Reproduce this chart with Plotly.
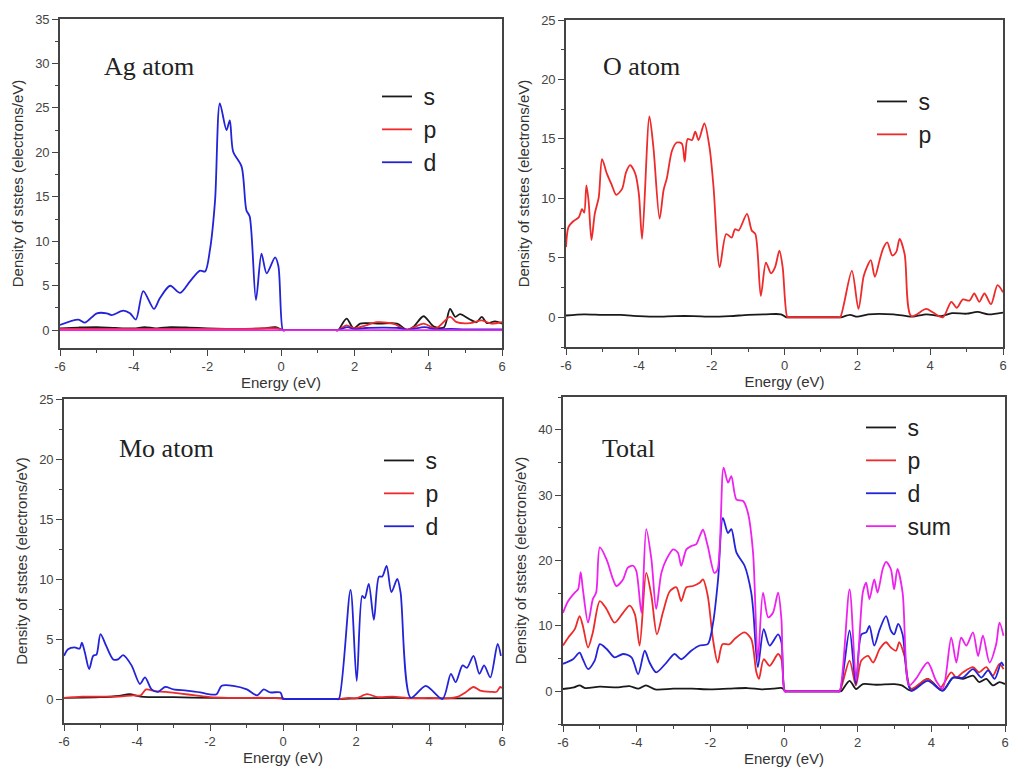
import plotly.graph_objects as go

W, H = 1009, 769

# ---------------- data ----------------
energy_ticks = [-6, -4, -2, 0, 2, 4, 6]
energy_ticktext = ["-6", "-4", "-2", "0", "2", "4", "6"]

# Ag atom
ag_s_x = [-6, -5.5, -5, -4.5, -4, -3.7, -3.4, -3, -2.5, -2, -1.5, -1, -0.5, -0.15, 0.05, 0.12, 1.48, 1.55, 1.78, 1.97, 2.15, 2.33, 2.69, 3.15, 3.42, 3.6, 3.87, 4.15, 4.42, 4.59, 4.73, 4.86, 5.13, 5.31, 5.45, 5.59, 5.81, 6.0]
ag_s_y = [0.2, 0.3, 0.35, 0.25, 0.2, 0.35, 0.2, 0.35, 0.3, 0.2, 0.15, 0.15, 0.2, 0.35, 0, 0, 0, 0, 1.3, 0.2, 0.75, 0.8, 0.75, 0.75, 0.05, 0.4, 1.57, 0.4, 0.3, 2.4, 1.5, 1.8, 1.2, 0.9, 1.5, 0.8, 1.0, 0.75]
ag_p_x = [-6, -5, -4, -3, -2, -1, -0.1, 0.05, 0.12, 1.48, 1.55, 1.78, 2.0, 2.3, 2.6, 3.06, 3.42, 3.87, 4.2, 4.59, 4.77, 5.13, 5.45, 5.7, 6.0]
ag_p_y = [0.15, 0.15, 0.15, 0.15, 0.15, 0.15, 0.2, 0, 0, 0, 0, 0.55, 0.2, 0.55, 0.9, 0.7, 0.05, 0.75, 0.2, 1.5, 0.9, 0.8, 1.1, 0.75, 0.9]
ag_d_x = [-6, -5.5, -5.32, -5.0, -4.73, -4.6, -4.28, -4.1, -3.94, -3.74, -3.45, -3.29, -3.01, -2.74, -2.47, -2.2, -2.06, -1.93, -1.79, -1.66, -1.48, -1.39, -1.30, -1.07, -0.94, -0.85, -0.68, -0.53, -0.39, -0.16, -0.07, 0.05, 0.1, 1.5, 1.55, 1.8, 2.0, 2.3, 2.8, 3.2, 3.45, 3.9, 4.2, 4.6, 5.0, 6.0]
ag_d_y = [0.6, 1.2, 0.86, 1.9, 1.9, 1.7, 2.2, 1.9, 1.2, 4.4, 2.4, 3.6, 5.0, 4.2, 5.5, 6.7, 6.6, 9.0, 14.6, 25.5, 22.5, 23.6, 20.1, 18.4, 13.5, 12.8, 3.4, 8.6, 6.4, 8.2, 7.2, 0, 0, 0, 0, 0.35, 0.1, 0.25, 0.3, 0.25, 0.05, 0.35, 0.1, 0.15, 0.1, 0.1]
ag_base_x = [-6, 6]
ag_base_y = [0, 0]

# O atom
o_s_x = [-6, -5.5, -5, -4.5, -4, -3.5, -3, -2.5, -2, -1.5, -1, -0.5, -0.1, 0.05, 0.12, 1.48, 1.55, 1.8, 2.0, 2.3, 3.0, 3.5, 3.9, 4.3, 4.6, 5.0, 5.3, 5.6, 6.0]
o_s_y = [0.15, 0.25, 0.2, 0.2, 0.1, 0.05, 0.1, 0.1, 0.05, 0.1, 0.2, 0.25, 0.25, 0, 0, 0, 0, 0.2, 0.05, 0.25, 0.25, 0.05, 0.25, 0.1, 0.35, 0.3, 0.45, 0.25, 0.4]
o_p_x = [-6, -5.93, -5.79, -5.65, -5.56, -5.5, -5.44, -5.38, -5.3, -5.21, -5.1, -5.01, -4.88, -4.74, -4.62, -4.46, -4.35, -4.24, -4.1, -4.0, -3.91, -3.71, -3.6, -3.43, -3.32, -3.23, -3.09, -2.96, -2.82, -2.74, -2.66, -2.54, -2.45, -2.36, -2.2, -2.06, -1.95, -1.78, -1.6, -1.45, -1.36, -1.26, -1.03, -0.9, -0.8, -0.65, -0.51, -0.37, -0.26, -0.14, -0.05, 0.08, 0.14, 1.47, 1.53, 1.85, 2.03, 2.17, 2.26, 2.37, 2.48, 2.62, 2.71, 2.82, 2.96, 3.07, 3.16, 3.3, 3.48, 3.89, 4.08, 4.35, 4.58, 4.73, 4.9, 5.08, 5.21, 5.35, 5.49, 5.67, 5.85, 6.0]
o_p_y = [5.9, 7.6, 8.1, 8.4, 9.1, 8.8, 11.1, 9.8, 6.5, 8.7, 10.1, 13.3, 12.1, 11.1, 10.3, 10.8, 12.2, 12.8, 12.1, 10.4, 6.6, 16.9, 14.3, 8.3, 10.7, 11.7, 14.0, 14.7, 14.6, 13.1, 15.0, 14.9, 15.6, 14.9, 16.3, 14.3, 11.0, 4.2, 7.0, 6.7, 7.4, 7.3, 8.7, 7.3, 7.0, 1.8, 4.6, 3.7, 4.2, 5.6, 4.2, 0, 0, 0, 0, 3.9, 0.7, 3.4, 4.2, 4.8, 3.4, 4.9, 5.8, 6.3, 5.2, 5.5, 6.6, 5.3, 0.1, 0.7, 0.4, 0, 1.3, 0.8, 1.5, 1.4, 2.0, 1.3, 2.0, 1.1, 2.7, 2.1]

# Mo atom
mo_s_x = [-6, -5, -4.5, -4.2, -3.9, -3, -2, -1, 0, 0.05, 0.12, 1.48, 1.55, 2, 3, 4, 5, 6]
mo_s_y = [0.1, 0.15, 0.25, 0.4, 0.2, 0.15, 0.1, 0.1, 0.05, 0, 0, 0, 0, 0.05, 0.1, 0.05, 0.05, 0.05]
mo_p_x = [-6, -5.5, -5, -4.5, -4.1, -3.9, -3.75, -3.5, -3.2, -2.8, -2.4, -2, -1.5, -1, -0.5, 0, 0.05, 0.12, 1.48, 1.55, 1.8, 2.0, 2.3, 2.6, 3.0, 3.5, 4.0, 4.5, 4.8, 5.0, 5.22, 5.4, 5.7, 5.85, 5.95, 6.0]
mo_p_y = [0.1, 0.2, 0.2, 0.2, 0.3, 0.3, 0.8, 0.65, 0.6, 0.45, 0.3, 0.15, 0.1, 0.1, 0.1, 0.05, 0, 0, 0, 0, 0.1, 0.05, 0.4, 0.15, 0.2, 0.05, 0.1, 0.05, 0.2, 0.55, 1.0, 0.7, 0.6, 0.6, 1.0, 0.9]
mo_d_x = [-6, -5.89, -5.71, -5.57, -5.51, -5.43, -5.31, -5.2, -5.11, -5.0, -4.84, -4.65, -4.52, -4.38, -4.15, -3.92, -3.78, -3.6, -3.42, -3.23, -3.0, -2.64, -2.27, -2.04, -1.82, -1.68, -1.36, -0.99, -0.71, -0.53, -0.35, -0.07, 0.0, 0.07, 1.46, 1.53, 1.85, 2.02, 2.17, 2.24, 2.35, 2.49, 2.63, 2.72, 2.84, 2.97, 3.13, 3.22, 3.5, 3.91, 4.37, 4.6, 4.73, 4.92, 5.04, 5.22, 5.38, 5.51, 5.68, 5.88, 5.97]
mo_d_y = [3.6, 4.15, 4.3, 4.2, 4.7, 3.9, 2.5, 3.6, 3.7, 5.4, 4.4, 3.3, 3.3, 3.65, 2.8, 1.25, 1.8, 0.8, 0.6, 1.0, 0.8, 0.7, 0.55, 0.4, 0.4, 1.1, 1.1, 0.8, 0.3, 0.8, 0.55, 0.55, 0, 0, 0, 0, 9.1, 1.5, 8.6, 8.4, 9.6, 6.6, 10.2, 10.2, 11.1, 8.9, 10.0, 8.9, 0.1, 1.1, 0, 2.1, 1.4, 2.8, 2.6, 3.6, 2.1, 2.8, 1.8, 4.6, 3.6]

# Total
tot_s_x = [-6, -5.7, -5.55, -5.4, -5, -4.5, -4.2, -3.95, -3.75, -3.5, -3, -2.5, -2, -1.5, -1, -0.6, -0.3, -0.05, 0.05, 0.12, 1.48, 1.55, 1.78, 1.96, 2.14, 2.5, 3.0, 3.2, 3.45, 3.9, 4.3, 4.59, 4.86, 5.13, 5.3, 5.49, 5.67, 5.85, 6.0]
tot_s_y = [0.35, 0.6, 0.9, 0.5, 0.7, 0.6, 0.8, 0.4, 0.9, 0.3, 0.4, 0.4, 0.3, 0.4, 0.5, 0.3, 0.4, 0.5, 0, 0, 0, 0, 1.6, 0.35, 1.1, 1.0, 1.1, 0.9, 0.1, 1.9, 0.1, 2.1, 1.9, 2.4, 1.4, 1.9, 0.9, 1.4, 1.1]
tot_p_x = [-6, -5.86, -5.68, -5.55, -5.46, -5.32, -5.19, -5.0, -4.82, -4.6, -4.37, -4.19, -4.05, -3.92, -3.74, -3.6, -3.45, -3.29, -3.1, -2.92, -2.79, -2.65, -2.47, -2.29, -2.2, -2.07, -1.93, -1.8, -1.67, -1.48, -1.34, -1.07, -0.89, -0.75, -0.68, -0.55, -0.39, -0.16, -0.07, 0.02, 0.08, 1.45, 1.51, 1.78, 1.95, 2.1, 2.28, 2.42, 2.6, 2.77, 2.9, 3.04, 3.13, 3.27, 3.45, 3.9, 4.22, 4.54, 4.68, 4.86, 5.13, 5.3, 5.49, 5.67, 5.85, 5.96]
tot_p_y = [7.0, 8.2, 9.5, 11.5, 10.0, 6.7, 9.0, 13.8, 12.6, 10.5, 12.0, 13.1, 11.8, 7.0, 18.1, 14.6, 8.7, 12.0, 15.3, 15.9, 13.8, 15.9, 16.1, 16.6, 17.1, 14.6, 8.0, 4.4, 7.2, 7.2, 8.0, 9.0, 8.0, 2.9, 1.9, 4.9, 3.9, 5.7, 4.9, 0, 0, 0, 0, 4.7, 0.9, 4.7, 5.4, 4.4, 6.5, 7.5, 6.7, 6.2, 7.5, 5.4, 0.4, 1.9, 0.4, 2.9, 2.1, 2.9, 3.7, 2.9, 3.7, 2.4, 4.2, 3.4]
tot_d_x = [-6, -5.73, -5.55, -5.46, -5.32, -5.14, -5.0, -4.82, -4.6, -4.37, -4.14, -3.96, -3.78, -3.65, -3.47, -3.19, -2.97, -2.79, -2.52, -2.29, -2.07, -1.93, -1.79, -1.66, -1.52, -1.43, -1.29, -1.07, -0.89, -0.83, -0.71, -0.55, -0.39, -0.16, -0.07, 0.02, 0.08, 1.45, 1.51, 1.78, 1.95, 2.1, 2.23, 2.32, 2.45, 2.6, 2.77, 2.9, 2.99, 3.1, 3.22, 3.45, 3.9, 4.31, 4.59, 4.86, 5.13, 5.36, 5.54, 5.72, 5.9, 5.96]
tot_d_y = [4.2, 4.9, 5.9, 4.9, 3.4, 4.7, 7.2, 6.5, 5.2, 5.7, 5.2, 2.6, 6.2, 4.4, 2.9, 4.4, 5.7, 4.9, 6.2, 7.0, 7.2, 10.3, 17.1, 26.5, 24.2, 24.8, 21.2, 19.2, 15.1, 12.0, 3.7, 9.5, 7.0, 8.7, 7.5, 0, 0, 0, 0, 9.3, 1.1, 8.7, 9.0, 10.0, 7.0, 9.5, 11.5, 9.3, 8.7, 10.3, 8.7, 0.1, 1.6, 0.1, 2.1, 2.1, 3.4, 2.1, 3.2, 1.9, 4.4, 3.9]
tot_sum_x = [-6, -5.86, -5.68, -5.59, -5.52, -5.46, -5.32, -5.19, -5.1, -5.0, -4.82, -4.64, -4.55, -4.37, -4.24, -4.1, -4.01, -3.87, -3.74, -3.6, -3.47, -3.33, -3.19, -3.01, -2.88, -2.79, -2.65, -2.52, -2.38, -2.29, -2.2, -2.07, -1.89, -1.8, -1.64, -1.52, -1.43, -1.29, -1.11, -0.98, -0.84, -0.71, -0.57, -0.43, -0.3, -0.16, -0.07, 0.02, 0.08, 1.45, 1.51, 1.78, 1.96, 2.14, 2.23, 2.32, 2.45, 2.54, 2.68, 2.77, 2.9, 2.99, 3.08, 3.22, 3.4, 3.58, 3.9, 4.13, 4.31, 4.54, 4.68, 4.81, 4.95, 5.13, 5.27, 5.4, 5.58, 5.76, 5.85, 5.96]
tot_sum_y = [12.0, 13.8, 15.1, 15.6, 18.2, 15.6, 10.5, 14.1, 15.1, 22.0, 20.2, 17.1, 16.1, 17.1, 18.9, 19.2, 18.4, 12.0, 24.8, 20.2, 12.6, 18.1, 20.2, 21.7, 21.2, 19.2, 21.7, 22.2, 22.5, 23.7, 24.7, 22.2, 18.1, 18.7, 34.2, 31.9, 32.9, 29.3, 29.1, 27.3, 21.2, 4.9, 15.1, 11.3, 12.0, 15.1, 11.0, 0, 0, 0, 0, 15.6, 1.6, 15.1, 16.6, 14.1, 17.1, 15.1, 18.7, 19.8, 18.7, 15.6, 18.7, 15.1, 0.9, 1.9, 4.4, 1.6, 0.4, 8.2, 4.4, 8.2, 7.0, 9.0, 5.4, 8.5, 4.4, 7.2, 10.5, 8.5]

# ---------------- styling ----------------
C_S, C_P, C_D, C_SUM = "#1a1a1a", "#ee2a2a", "#2323d8", "#ee22ee"
AX_COLOR = "#444444"
TICK_FONT = dict(family="Liberation Sans, Arial", size=13, color="#444444")
TITLE_FONT = dict(family="Liberation Sans, Arial", size=15, color="#333333")
LEG_FONT = dict(family="Liberation Sans, Arial", size=23, color="#222222")
LBL_FONT = dict(family="Liberation Serif, Times New Roman", size=26, color="#222222")
NB = "\u00a0"

# panel pixel boxes: (left, top, right, bottom)
panels = {
    1: (60, 19, 502, 348),
    2: (566, 20, 1003, 347),
    3: (64, 399, 502, 723),
    4: (563, 397, 1005, 724),
}
yranges = {1: [-2, 35], 2: [-2.5, 25], 3: [-2, 25], 4: [-5, 45]}
ydt = {1: 5, 2: 5, 3: 5, 4: 10}

fig = go.Figure()

def add(xs, ys, color, name, panel, legend, show=True):
    ax = "" if panel == 1 else str(panel)
    fig.add_trace(go.Scatter(
        x=xs, y=ys, mode="lines", name=NB + name,
        line=dict(color=color, width=1.8, shape="spline", smoothing=0.8),
        xaxis="x" + ax, yaxis="y" + ax,
        legend=legend, showlegend=show,
    ))

add(ag_s_x, ag_s_y, C_S, "s", 1, "legend")
add(ag_p_x, ag_p_y, C_P, "p", 1, "legend")
add(ag_d_x, ag_d_y, C_D, "d", 1, "legend")
add(ag_base_x, ag_base_y, C_SUM, "sum", 1, "legend", show=False)

add(o_s_x, o_s_y, C_S, "s", 2, "legend2")
add(o_p_x, o_p_y, C_P, "p", 2, "legend2")

add(mo_s_x, mo_s_y, C_S, "s", 3, "legend3")
add(mo_p_x, mo_p_y, C_P, "p", 3, "legend3")
add(mo_d_x, mo_d_y, C_D, "d", 3, "legend3")

add(tot_s_x, tot_s_y, C_S, "s", 4, "legend4")
add(tot_p_x, tot_p_y, C_P, "p", 4, "legend4")
add(tot_d_x, tot_d_y, C_D, "d", 4, "legend4")
add(tot_sum_x, tot_sum_y, C_SUM, "sum", 4, "legend4")

layout = dict(
    width=W, height=H, margin=dict(l=0, r=0, t=0, b=0, pad=0, autoexpand=False),
    paper_bgcolor="white", plot_bgcolor="white",
)
for k, (l, t, r, b) in panels.items():
    sfx = "" if k == 1 else str(k)
    layout["xaxis" + sfx] = dict(
        domain=[l / W, r / W], anchor="y" + sfx, range=[-6, 6], automargin=False,
        tickvals=energy_ticks, ticktext=energy_ticktext,
        ticks="outside", ticklen=6, tickwidth=1.3, tickcolor=AX_COLOR,
        minor=dict(dtick=1, ticks="outside", ticklen=3, tickcolor=AX_COLOR),
        showline=True, linecolor=AX_COLOR, linewidth=1.6, mirror=True,
        showgrid=False, zeroline=False, tickfont=TICK_FONT,
        title=dict(text="Energy (eV)", font=TITLE_FONT, standoff=0),
    )
    layout["yaxis" + sfx] = dict(
        domain=[1 - b / H, 1 - t / H], anchor="x" + sfx, range=yranges[k], automargin=False,
        tick0=0, dtick=ydt[k],
        ticks="outside", ticklen=6, tickwidth=1.3, tickcolor=AX_COLOR,
        minor=dict(dtick=ydt[k] / 2, ticks="outside", ticklen=3, tickcolor=AX_COLOR),
        showline=True, linecolor=AX_COLOR, linewidth=1.6, mirror=True,
        showgrid=False, zeroline=False, tickfont=TICK_FONT,
        title=dict(text="Density of ststes (electrons/eV)", font=TITLE_FONT, standoff=8),
    )

legend_pos = {"legend": (377, 75), "legend2": (872, 80), "legend3": (379, 439), "legend4": (861, 406)}
for name, (px, py) in legend_pos.items():
    layout[name] = dict(x=px / W, y=1 - py / H, xanchor="left", yanchor="top",
                        font=LEG_FONT, bgcolor="rgba(0,0,0,0)", borderwidth=0,
                        tracegroupgap=0)
fig.update_layout(**layout)

labels = [("Ag atom", 149, 67), ("O atom", 641, 67), ("Mo atom", 166, 448), ("Total", 628, 448)]
for txt, px, py in labels:
    fig.add_annotation(text=txt, x=px / W, y=1 - py / H, xref="paper", yref="paper",
                       showarrow=False, font=LBL_FONT, xanchor="center", yanchor="middle")

fig.write_html("out.html", config={"displayModeBar": False},
               post_script="document.body.style.margin='0';document.body.style.padding='0';")
